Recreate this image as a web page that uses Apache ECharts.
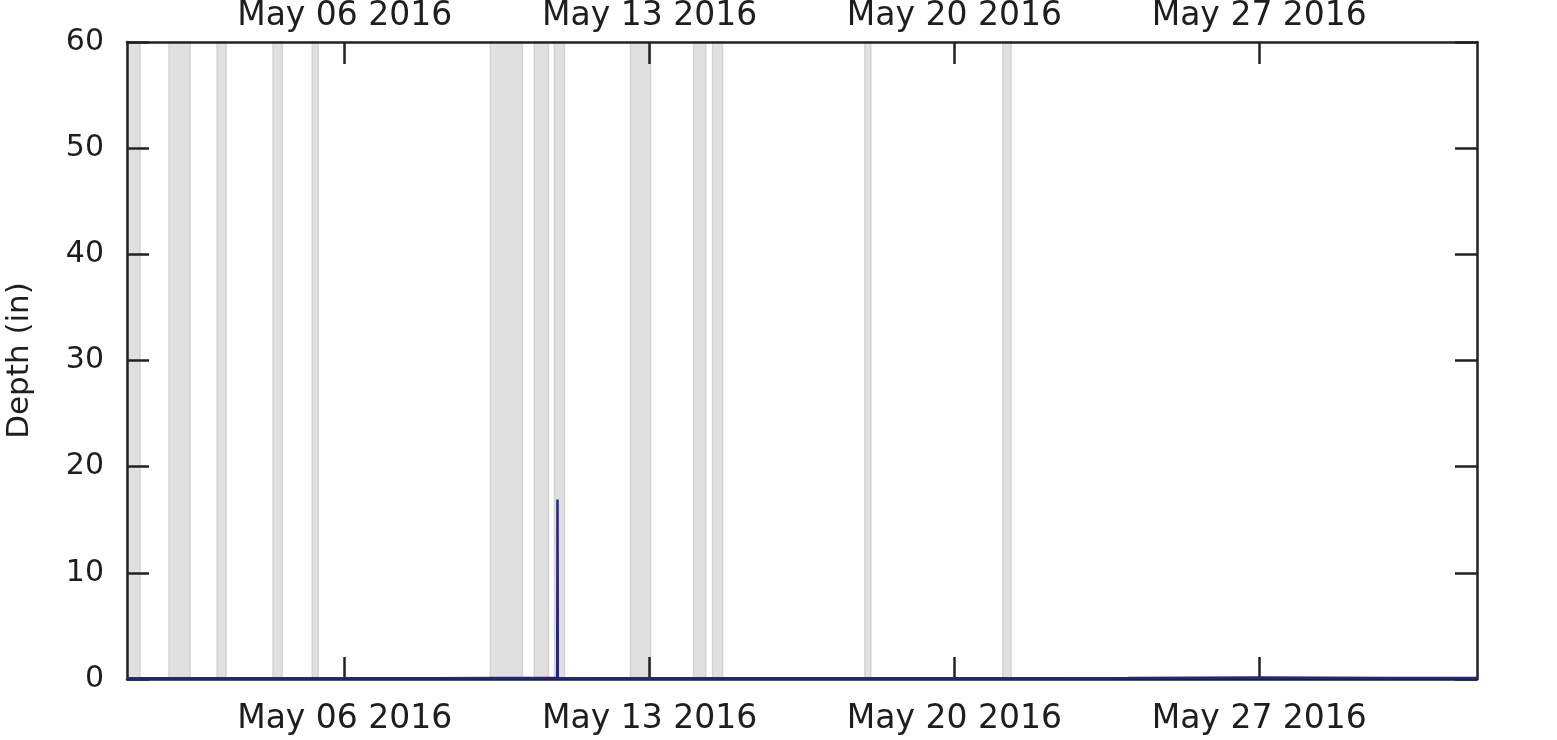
<!DOCTYPE html>
<html>
<head>
<meta charset="utf-8">
<script src="https://cdn.jsdelivr.net/npm/echarts@6/dist/echarts.min.js"></script>
<style>
html,body{margin:0;padding:0;background:#fff;}
#c{width:1557px;height:740px;}
</style>
</head>
<body>
<div id="c"></div>
<script>
// ---- data ----
var xRange = ['2016-05-01 00:00', '2016-06-01 00:00'];
var tickDates = ['2016-05-06 00:00', '2016-05-13 00:00', '2016-05-20 00:00', '2016-05-27 00:00'];
var tickLabels = ['May 06 2016', 'May 13 2016', 'May 20 2016', 'May 27 2016'];
var yTicks = [0, 10, 20, 30, 40, 50, 60];

// shaded periods (start, end)
var bandStarts = ['2016-05-01 00:00', '2016-05-01 23:10', '2016-05-03 01:40', '2016-05-04 08:30', '2016-05-05 06:05',
                  '2016-05-09 08:15', '2016-05-10 08:30', '2016-05-10 19:35', '2016-05-12 13:30', '2016-05-14 00:15',
                  '2016-05-14 10:45', '2016-05-17 22:40', '2016-05-21 02:40'];
var bandEnds   = ['2016-05-01 07:10', '2016-05-02 10:45', '2016-05-03 06:35', '2016-05-04 13:30', '2016-05-05 09:20',
                  '2016-05-10 01:55', '2016-05-10 16:15', '2016-05-11 01:05', '2016-05-13 00:30', '2016-05-14 06:55',
                  '2016-05-14 16:15', '2016-05-18 01:55', '2016-05-21 07:10'];

// depth series
var depthTimes = ['2016-05-01 00:00', '2016-05-02 12:00', '2016-05-04 00:00', '2016-05-06 00:00', '2016-05-08 00:00',
                  '2016-05-09 12:00', '2016-05-10 21:05', '2016-05-10 21:15', '2016-05-10 21:25', '2016-05-12 00:00',
                  '2016-05-14 00:00', '2016-05-16 00:00', '2016-05-18 00:00', '2016-05-20 00:00', '2016-05-22 00:00',
                  '2016-05-24 00:00', '2016-05-25 12:00', '2016-05-27 00:00', '2016-05-28 12:00', '2016-05-30 00:00',
                  '2016-05-31 12:00', '2016-06-01 00:00'];
var depthValues = [0.08, 0.08, 0.07, 0.08, 0.08,
                   0.09, 0.1, 16.9, 0.1, 0.08,
                   0.07, 0.07, 0.06, 0.06, 0.08,
                   0.09, 0.11, 0.13, 0.12, 0.1,
                   0.09, 0.09];

// ---- build ----
function ts(s){ var p = s.split(/[- :]/); return Date.UTC(+p[0], +p[1]-1, +p[2], +p[3], +p[4]); }
var tickTs = tickDates.map(ts);
var labelMap = {};
tickTs.forEach(function(t, i){ labelMap[t] = tickLabels[i]; });

var seriesData = depthTimes.map(function(t, i){ return [ts(t), depthValues[i]]; });
var bands = bandStarts.map(function(s, i){ return [{xAxis: ts(s)}, {xAxis: ts(bandEnds[i])}]; });

var axisColor = '#222';
var txtColor = '#1e1e1e';
function xAxisDef(pos){
  return {
    type: 'value', position: pos, z: 10,
    min: ts(xRange[0]), max: ts(xRange[1]),
    axisLine: {show: true, onZero: false, lineStyle: {color: axisColor, width: 2.5}},
    axisTick: {show: true, inside: true, length: 22, lineStyle: {color: axisColor, width: 2.5}, customValues: tickTs},
    axisLabel: {show: true, customValues: tickTs, fontFamily: 'DejaVu Sans', fontSize: 33, color: txtColor,
                margin: pos === 'top' ? 9 : 24,
                formatter: function(v){ return labelMap[v] || ''; }},
    splitLine: {show: false}
  };
}
function yAxisDef(pos){
  return {
    type: 'value', position: pos, min: 0, max: 60, interval: 10, z: 10,
    name: pos === 'left' ? 'Depth (in)' : '',
    nameLocation: 'middle', nameGap: 92, nameRotate: 90,
    nameTextStyle: {fontFamily: 'DejaVu Sans', fontSize: 31, color: txtColor},
    axisLine: {show: true, onZero: false, lineStyle: {color: axisColor, width: 2.5}},
    axisTick: {show: true, inside: true, length: 22, lineStyle: {color: axisColor, width: 2.5}},
    axisLabel: {show: pos === 'left', fontFamily: 'DejaVu Sans', fontSize: 30, color: txtColor, margin: 23},
    splitLine: {show: false}
  };
}

var chart = echarts.init(document.getElementById('c'), null, {renderer: 'canvas'});
chart.setOption({
  animation: false,
  backgroundColor: '#ffffff',
  grid: {left: 127, right: 80, top: 42, bottom: 61, containLabel: false, outerBoundsMode: 'none'},
  xAxis: [xAxisDef('bottom'), xAxisDef('top')],
  yAxis: [yAxisDef('left'), yAxisDef('right')],
  series: [{
    name: 'bands', type: 'line', xAxisIndex: 0, yAxisIndex: 0, z: 1,
    data: [], showSymbol: false,
    markArea: {
      silent: true, z: 1,
      itemStyle: {color: '#e0e0e0', borderColor: '#d3d3d3', borderWidth: 1.5},
      data: bands
    }
  }, {
    name: 'depth', type: 'line', xAxisIndex: 0, yAxisIndex: 0, z: 15,
    data: seriesData, showSymbol: false, symbol: 'none',
    lineStyle: {color: '#26267c', width: 2.5}
  }]
});
</script>
</body>
</html>
